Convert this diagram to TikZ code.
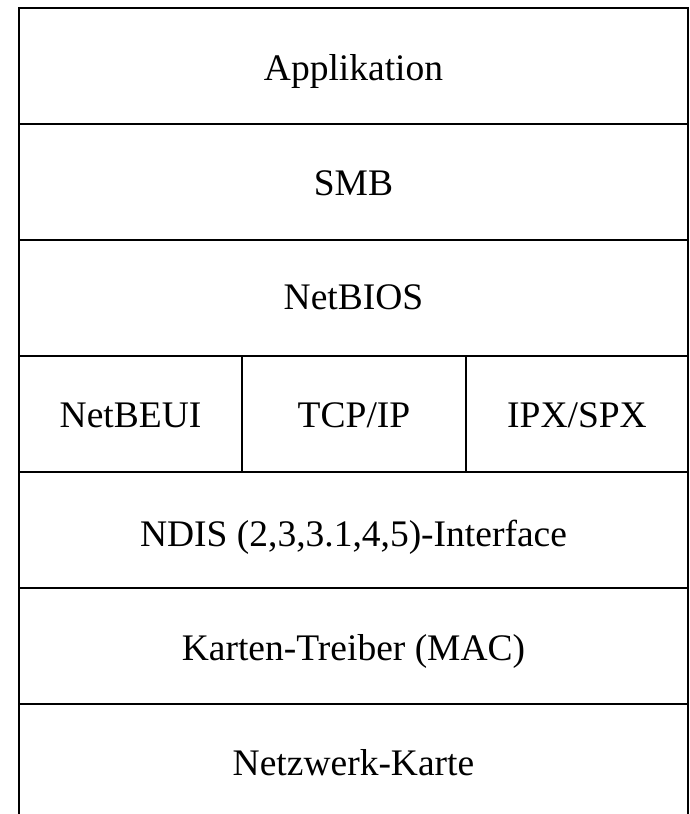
\documentclass[tikz,border=0pt]{standalone}
\usepackage{fontspec}
\setmainfont{Liberation Serif}
\begin{document}
\begin{tikzpicture}[x=1pt,y=-1pt,
  layer/.style={font=\fontsize{37.5}{44}\selectfont, inner sep=0pt, anchor=base},
  frame/.style={line width=2pt, line cap=rect}]
\useasboundingbox (0,0) rectangle (690,814);
% outer frame and row separators
\draw[frame] (19,814) -- (19,8) -- (688,8) -- (688,814);
\foreach \y in {124,240,356,472,588,704}
  \draw[frame] (19,\y) -- (688,\y);
\draw[frame] (242,356) -- (242,472);
\draw[frame] (466,356) -- (466,472);
% labels
\node[layer] (app)  at (353.5,80)  {Applikation};
\node[layer] (smb)  at (353.5,195) {SMB};
\node[layer] (nb)   at (353.5,309) {NetBIOS};
\node[layer] (beui) at (130.5,427) {NetBEUI};
\node[layer] (tcp)  at (354,427)   {TCP/IP};
\node[layer] (ipx)  at (577,427)   {IPX/SPX};
\node[layer] (ndis) at (353.5,546) {NDIS (2,3,3.1,4,5)-Interface};
\node[layer] (mac)  at (353.5,660) {Karten-Treiber (MAC)};
\node[layer] (nic)  at (353.5,775) {Netzwerk-Karte};
\end{tikzpicture}
\end{document}
